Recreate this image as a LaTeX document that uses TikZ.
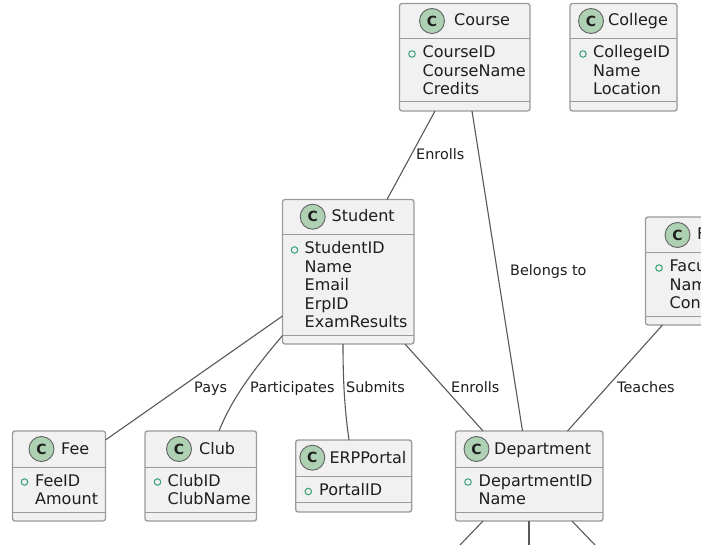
\documentclass[tikz,border=0pt]{standalone}
\usepackage{fontspec}
\setmainfont{DejaVu Sans}
\definecolor{boxfill}{HTML}{F1F1F1}
\definecolor{boxline}{HTML}{9A9A9A}
\definecolor{spotfill}{HTML}{ADD1B2}
\definecolor{ink}{HTML}{1E1E1E}
\definecolor{linkc}{HTML}{595959}
\definecolor{dotc}{HTML}{38A076}
\tikzset{
  x=1pt,y=-1pt,
  umlbox/.style={draw=boxline,fill=boxfill,line width=1.3pt,rounded corners=2.5pt,inner sep=0pt,outer sep=0pt,anchor=north west},
  sep/.style={draw=boxline,line width=1pt},
  spot/.style={circle,draw=ink!70,fill=spotfill,line width=0.9pt,minimum size=25pt,inner sep=0pt,font=\fontsize{14}{14}\selectfont\bfseries,text=ink},
  title/.style={anchor=base west,inner sep=0pt,font=\fontsize{16}{16}\selectfont,text=ink},
  field/.style={anchor=base west,inner sep=0pt,font=\fontsize{16}{16}\selectfont,text=ink},
  dot/.style={circle,draw=dotc,line width=1pt,minimum size=6.5pt,inner sep=0pt},
  linkline/.style={draw=linkc,line width=1.1pt},
  linklabel/.style={anchor=base west,inner sep=0pt,font=\fontsize{14.4}{14.4}\selectfont,text=ink},
}
\begin{document}
\begin{tikzpicture}
\useasboundingbox (0,0) rectangle (701,545);
\clip (0,0) rectangle (701,545);
\fill[white] (0,0) rectangle (701,545);

% boxes
\node[umlbox,minimum width=130.5pt,minimum height=107.5pt] (course) at (399.5,3.5) {};
\node[umlbox,minimum width=107pt,minimum height=107.5pt] (college) at (570,3.5) {};
\node[umlbox,minimum width=131.5pt,minimum height=144.5pt] (student) at (282.5,199.5) {};
\node[umlbox,minimum width=100pt,minimum height=108pt] (faculty) at (645.5,217) {};
\node[umlbox,minimum width=93pt,minimum height=90pt] (fee) at (12.5,431) {};
\node[umlbox,minimum width=111.5pt,minimum height=90pt] (club) at (145,431) {};
\node[umlbox,minimum width=116pt,minimum height=72pt] (erp) at (295.7,440) {};
\node[umlbox,minimum width=147.5pt,minimum height=90pt] (dept) at (455.5,431) {};

% compartment rules
\draw[sep] (course.west |- 0,39) -- (course.east |- 0,39) (course.west |- 0,102) -- (course.east |- 0,102);
\draw[sep] (college.west |- 0,39) -- (college.east |- 0,39) (college.west |- 0,102) -- (college.east |- 0,102);
\draw[sep] (student.west |- 0,235) -- (student.east |- 0,235) (student.west |- 0,335) -- (student.east |- 0,335);
\draw[sep] (faculty.west |- 0,253) -- (faculty.east |- 0,253) (faculty.west |- 0,316.5) -- (faculty.east |- 0,316.5);
\draw[sep] (fee.west |- 0,467) -- (fee.east |- 0,467) (fee.west |- 0,512) -- (fee.east |- 0,512);
\draw[sep] (club.west |- 0,467) -- (club.east |- 0,467) (club.west |- 0,512) -- (club.east |- 0,512);
\draw[sep] (erp.west |- 0,476) -- (erp.east |- 0,476) (erp.west |- 0,502.7) -- (erp.east |- 0,502.7);
\draw[sep] (dept.west |- 0,467) -- (dept.east |- 0,467) (dept.west |- 0,512) -- (dept.east |- 0,512);

% Course
\node[spot] (courseC) at (432,21) {C};
\node[title] (courseT) at (454,26) {Course};
\node[dot] (courseD) at (412,54) {};
\node[field] (course1) at (422.5,58) {CourseID};
\node[field] (course2) at (422.5,76.3) {CourseName};
\node[field] (course3) at (422.5,94.6) {Credits};
% College
\node[spot] (collegeC) at (591,21) {C};
\node[title] (collegeT) at (608,26) {College};
\node[dot] (collegeD) at (583,54) {};
\node[field] (college1) at (593,58) {CollegeID};
\node[field] (college2) at (593,76.3) {Name};
\node[field] (college3) at (593,94.6) {Location};
% Student
\node[spot] (studentC) at (312.7,216.7) {C};
\node[title] (studentT) at (331.5,222) {Student};
\node[dot] (studentD) at (294.5,250) {};
\node[field] (student1) at (304.5,254) {StudentID};
\node[field] (student2) at (304.5,272.3) {Name};
\node[field] (student3) at (304.5,290.6) {Email};
\node[field] (student4) at (304.5,309) {ErpID};
\node[field] (student5) at (304.5,327.3) {ExamResults};
% Faculty (cut by the picture edge)
\node[spot] (facultyC) at (677.5,235) {C};
\node[title] (facultyT) at (697,240) {F};
\node[dot] (facultyD) at (659,268) {};
\node[field] (faculty1) at (669.5,272) {Facu};
\node[field] (faculty2) at (669.5,290.3) {Nam};
\node[field] (faculty3) at (669.5,308.6) {Con};
% Fee
\node[spot] (feeC) at (41.5,449) {C};
\node[title] (feeT) at (61,454) {Fee};
\node[dot] (feeD) at (24.5,482) {};
\node[field] (fee1) at (35,486) {FeeID};
\node[field] (fee2) at (35,504.3) {Amount};
% Club
\node[spot] (clubC) at (179,449) {C};
\node[title] (clubT) at (199,454) {Club};
\node[dot] (clubD) at (157.5,482) {};
\node[field] (club1) at (167.5,486) {ClubID};
\node[field] (club2) at (167.5,504.3) {ClubName};
% ERPPortal
\node[spot] (erpC) at (312.3,457.7) {C};
\node[title] (erpT) at (329.3,463) {ERPPortal};
\node[dot] (erpD) at (308.3,491.5) {};
\node[field] (erp1) at (319,495) {PortalID};
% Department
\node[spot] (deptC) at (476.5,449) {C};
\node[title] (deptT) at (494,454) {Department};
\node[dot] (deptD) at (468,482) {};
\node[field] (dept1) at (478.5,486) {DepartmentID};
\node[field] (dept2) at (478.5,504.3) {Name};

% free ends of the stubs at the picture's lower edge
\coordinate (stubL) at (460,545);
\coordinate (stubM) at (529,545);
\coordinate (stubR) at (595,545);

% connectors
\draw[linkline] ([xshift=35.5pt]course.south west) -- ([xshift=104.5pt]student.north west);
\draw[linkline] ([xshift=72.5pt]course.south west) -- ([xshift=67pt]dept.north west);
\draw[linkline] ([yshift=28pt]student.south west) -- ([yshift=-9pt]fee.north east);
\draw[linkline] ([yshift=8.5pt]student.south west) .. controls (255,368) and (232,398) .. ([xshift=74pt]club.north west);
\draw[linkline] ([xshift=60.5pt]student.south west) .. controls (343,375) and (344,405) .. ([xshift=53.3pt]erp.north west);
\draw[linkline] ([xshift=122.5pt]student.south west) -- ([xshift=27.5pt]dept.north west);
\draw[linkline] ([xshift=17pt]faculty.south west) -- ([xshift=112pt]dept.north west);
\draw[linkline] ([xshift=27.5pt]dept.south west) -- (stubL);
\draw[linkline] ([xshift=73.5pt]dept.south west) -- (stubM);
\draw[linkline] ([xshift=116.5pt]dept.south west) -- (stubR);

% connector labels
\node[linklabel] (lEnrollsA) at (416,160) {Enrolls};
\node[linklabel] (lBelongs) at (510,276) {Belongs to};
\node[linklabel] (lPays) at (194,392) {Pays};
\node[linklabel] (lPart) at (250,392) {Participates};
\node[linklabel] (lSubmits) at (346,392) {Submits};
\node[linklabel] (lEnrollsB) at (451,392) {Enrolls};
\node[linklabel] (lTeaches) at (617,392) {Teaches};
\end{tikzpicture}
\end{document}
